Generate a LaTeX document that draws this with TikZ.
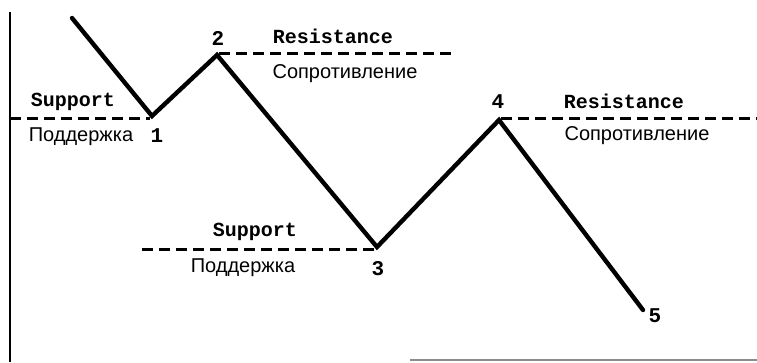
\documentclass[tikz,border=0pt]{standalone}
\usepackage{fontspec}
\setmainfont{Liberation Sans}
\newfontfamily\monob{Liberation Mono}
\begin{document}
\begin{tikzpicture}[x=1pt,y=-1pt,
  price/.style={line width=4.4pt,line join=miter,line cap=round},
  level/.style={line width=3pt,dash pattern=on 11pt off 6pt},
  en/.style={font=\monob\bfseries\fontsize{20}{22}\selectfont,inner sep=0pt},
  ru/.style={font=\fontsize{20}{22}\selectfont,inner sep=0pt},
  num/.style={font=\monob\bfseries\fontsize{21}{22}\selectfont,inner sep=0pt}]
\useasboundingbox (0,0) rectangle (757,362);
% axes
\coordinate (axTop) at (10,12);
\coordinate (axBot) at (10,362);
\draw[line width=2.8pt] (axTop) -- (axBot);
\coordinate (xaL) at (410,360);
\coordinate (xaR) at (757,360);
\draw[line width=1.8pt,black!45] (xaL) -- (xaR);
% price path
\coordinate (p0) at (72,18);
\coordinate (p1) at (152,116);
\coordinate (p2) at (217,55);
\coordinate (p3) at (377,247);
\coordinate (p4) at (499,120);
\coordinate (p5) at (643,310);
\draw[price] (p0) -- (p1) -- (p2) -- (p3) -- (p4) -- (p5);
% levels
\coordinate (s1L) at (10,118);
\coordinate (s1R) at (150,118);
\draw[level] (s1L) -- (s1R);
\coordinate (r1L) at (219,53);
\coordinate (r1R) at (456,53);
\draw[level] (r1L) -- (r1R);
\coordinate (s2L) at (142,249);
\coordinate (s2R) at (377,249);
\draw[level] (s2L) -- (s2R);
\coordinate (r2L) at (501,118);
\coordinate (r2R) at (757,118);
\draw[level] (r2L) -- (r2R);
% labels
\node[en] (supA) at (73,102) {Support};
\node[ru] (podA) at (81,137) {Поддержка};
\node[en] (resA) at (333,36) {Resistance};
\node[ru] (sopA) at (345,74) {Сопротивление};
\node[en] (supB) at (255,232) {Support};
\node[ru] (podB) at (243,268) {Поддержка};
\node[en] (resB) at (624,101) {Resistance};
\node[ru] (sopB) at (637,136) {Сопротивление};
% point numbers
\node[num] (n1) at (157,136) {1};
\node[num] (n2) at (218,38) {2};
\node[num] (n3) at (378,269) {3};
\node[num] (n4) at (498,102) {4};
\node[num] (n5) at (655,316) {5};
\end{tikzpicture}
\end{document}
